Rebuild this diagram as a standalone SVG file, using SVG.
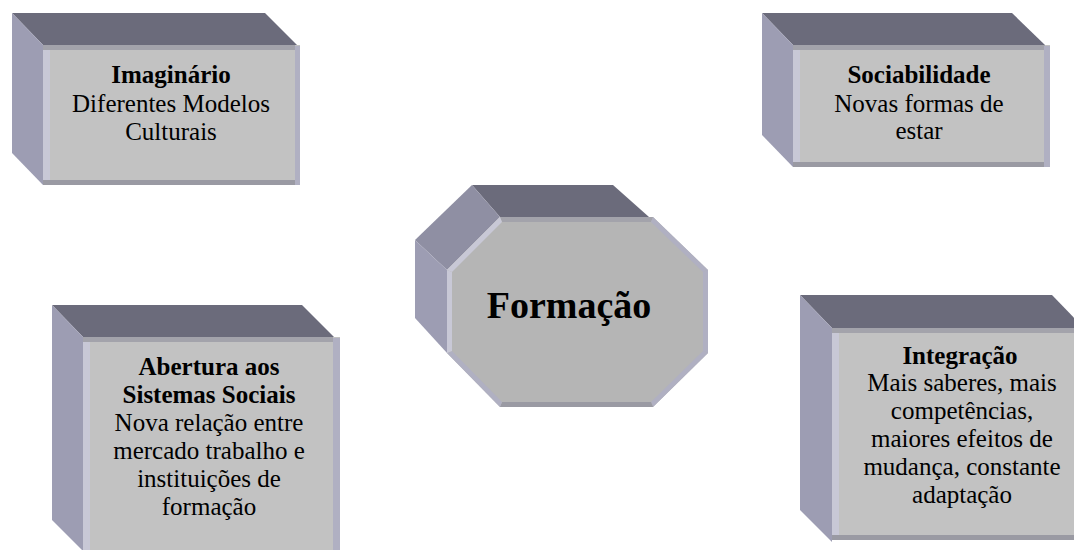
<svg xmlns="http://www.w3.org/2000/svg" width="1074" height="550" viewBox="0 0 1074 550">
  <style>
    .top { fill: #6b6b7b; }
    .side { fill: #9d9db3; }
    .diag { fill: #8f8fa3; }
    .front { fill: #c2c2c2; }
    .ofront { fill: #b5b5b5; }
    .st { fill: #a3a3ab; }
    .sl { fill: #c8c8d6; }
    .sr { fill: #b0b0c2; }
    .sb { fill: #9a9aa3; }
    text { font-family: "Liberation Serif", "Times New Roman", serif; fill: #000; text-anchor: middle; font-size: 25px; }
    .b { font-weight: bold; }
  </style>
  <rect width="1074" height="550" fill="#ffffff"/>
  <g id="connectors"></g>

  <g id="imaginario">
    <polygon class="top" points="12,13 265,13 297,45 43,45"/>
    <polygon class="side" points="12,13 43,45 43,185 12,153"/>
    <rect class="front" x="43" y="45" width="257" height="140"/>
    <rect class="st" x="43" y="45" width="252" height="5"/>
    <rect class="sl" x="43" y="50" width="7" height="130"/>
    <rect class="sr" x="295" y="46" width="5" height="139"/>
    <rect class="sb" x="43" y="180" width="252" height="5"/>
    <text x="171" y="83" class="b">Imaginário</text>
    <text x="171" y="112">Diferentes Modelos</text>
    <text x="171" y="140">Culturais</text>
  </g>

  <g id="sociabilidade">
    <polygon class="top" points="762,13 1012,13 1045,45 793,45"/>
    <polygon class="side" points="762,13 793,45 793,167 762,135"/>
    <rect class="front" x="793" y="45" width="257" height="122"/>
    <rect class="st" x="793" y="45" width="252" height="5"/>
    <rect class="sl" x="793" y="50" width="7" height="112"/>
    <rect class="sr" x="1044" y="46" width="6" height="121"/>
    <rect class="sb" x="793" y="162" width="251" height="5"/>
    <text x="919" y="83" class="b">Sociabilidade</text>
    <text x="919" y="112">Novas formas de</text>
    <text x="919" y="139">estar</text>
  </g>

  <g id="formacao">
    <polygon class="top" points="472,185 613,185 649,217 500,217"/>
    <polygon class="diag" points="472,185 500,217 447,270 415,240"/>
    <polygon class="side" points="415,240 447,270 447,353 415,318"/>
    <polygon class="ofront" points="500,217 653,217 708,270 708,353 653,407 500,407 447,353 447,270"/>
    <polygon class="st" points="500,217 653,217 651,222 502,222"/>
    <polygon class="sr" points="653,217 708,270 703,272 651,222"/>
    <polygon class="sr" points="708,270 708,353 703,351 703,272"/>
    <polygon class="sr" points="708,353 653,407 651,402 703,351"/>
    <polygon class="sb" points="653,407 500,407 502,402 651,402"/>
    <polygon class="sr" points="500,407 447,353 452,351 502,402"/>
    <polygon class="sl" points="447,353 447,270 452,272 452,351"/>
    <polygon class="sl" points="447,270 500,217 502,222 452,272"/>
    <text x="569" y="318" class="b" style="font-size:38px">Formação</text>
  </g>

  <g id="abertura">
    <polygon class="top" points="52,305 302,305 334,337 83,337"/>
    <polygon class="side" points="52,305 83,337 83,551 52,520"/>
    <rect class="front" x="83" y="337" width="257" height="223"/>
    <rect class="st" x="83" y="337" width="250" height="5"/>
    <rect class="sl" x="83" y="342" width="7" height="218"/>
    <rect class="sr" x="333" y="338" width="7" height="222"/>
    <text x="209" y="375" class="b">Abertura aos</text>
    <text x="209" y="403" class="b">Sistemas Sociais</text>
    <text x="209" y="431">Nova relação entre</text>
    <text x="209" y="459">mercado trabalho e</text>
    <text x="209" y="487">instituições de</text>
    <text x="209" y="515">formação</text>
  </g>

  <g id="integracao">
    <polygon class="top" points="800,295 1052,295 1084,328 832,328"/>
    <polygon class="side" points="800,295 832,328 832,542 800,510"/>
    <rect class="front" x="832" y="328" width="257" height="212"/>
    <rect class="st" x="832" y="328" width="257" height="5"/>
    <rect class="sl" x="832" y="333" width="7" height="202"/>
    <rect class="sb" x="832" y="535" width="257" height="5"/>
    <text x="960" y="364" class="b">Integração</text>
    <text x="962" y="391">Mais saberes, mais</text>
    <text x="962" y="419">competências,</text>
    <text x="962" y="447">maiores efeitos de</text>
    <text x="962" y="475">mudança, constante</text>
    <text x="962" y="503">adaptação</text>
  </g>
</svg>
